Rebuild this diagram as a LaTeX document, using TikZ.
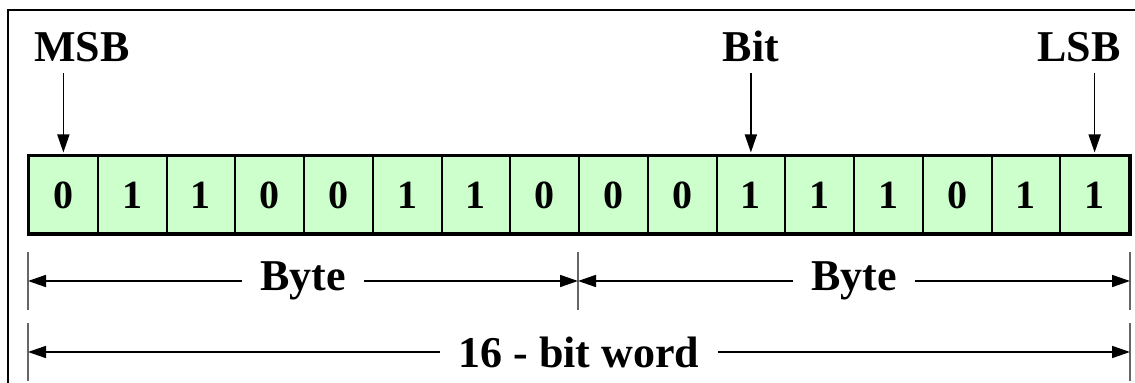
\documentclass[tikz,border=0pt]{standalone}
\usepackage{fontspec}
\setmainfont{Liberation Serif}
\usepackage{xcolor}
\usetikzlibrary{arrows.meta, positioning, calc}
\definecolor{bitgreen}{RGB}{204,255,204}

\begin{document}
\begin{tikzpicture}[
    x=0.5pt, y=-0.5pt,
    bitbox/.style={rectangle, draw, line width=1pt, fill=bitgreen, minimum width=34.375pt, minimum height=38.5pt, inner sep=0pt, font=\fontsize{20}{24}\selectfont\bfseries},
    lbl/.style={font=\fontsize{22}{26}\selectfont\bfseries},
    dimlbl/.style={lbl, inner xsep=9pt, inner ysep=2pt},
    arrow/.style={-{Triangle[length=9pt, width=6pt]}, line width=0.8pt},
    tick/.style={draw=gray!80!black, line width=1pt},
    frame/.style={line width=1pt}
  ]
    \useasboundingbox (0,0) rectangle (1135,383);
    \draw[frame] (8,383) -- (8,10) -- (1135,10);

    % the 16 bits
    \foreach \b [count=\i] in {0,1,1,0,0,1,1,0,0,0,1,1,1,0,1,1}
      \node[bitbox] (c\i) at ({29+68.75*(\i-0.5)},195) {\b};
    \draw[line width=1.5pt] (c1.north west) rectangle (c16.south east);

    % pointers
    \node[lbl, anchor=base] (msb) at (82,62) {MSB};
    \node[lbl, anchor=base] (bit) at (c11 |- 0,62) {Bit};
    \node[lbl, anchor=base] (lsb) at (1079,62) {LSB};
    \draw[arrow, shorten <=2pt, shorten >=1.5pt] (msb.south -| c1) -- (c1.north);
    \draw[arrow, shorten <=2pt, shorten >=1.5pt] (bit.south -| c11) -- (c11.north);
    \draw[arrow, shorten <=2pt, shorten >=1.5pt] (lsb.south -| c16) -- (c16.north);

    % byte and word ranges
    \coordinate (bL) at (c1.west |- 0,281);
    \coordinate (bM) at (c9.west |- bL);
    \coordinate (bR) at (c16.east |- bL);
    \coordinate (wL) at (c1.west |- 0,352);
    \coordinate (wR) at (c16.east |- wL);

    \draw[tick] (bL) ++(0,-29) -- ++(0,58);
    \draw[tick] (bM) ++(0,-29) -- ++(0,58);
    \draw[tick] (bR) ++(0,-29) -- ++(0,58);
    \draw[tick] (wL) ++(0,-29) -- ++(0,58);
    \draw[tick] (wR) ++(0,-29) -- ++(0,58);

    \node[dimlbl] (byte1) at ($(bL)!0.5!(bM)$) {Byte};
    \node[dimlbl] (byte2) at ($(bM)!0.5!(bR)$) {Byte};
    \node[dimlbl] (word) at ($(wL)!0.5!(wR)$) {16 - bit word};

    \draw[arrow] (byte1) -- (bL);
    \draw[arrow] (byte1) -- (bM);
    \draw[arrow] (byte2) -- (bM);
    \draw[arrow] (byte2) -- (bR);
    \draw[arrow] (word) -- (wL);
    \draw[arrow] (word) -- (wR);
  \end{tikzpicture}
\end{document}
